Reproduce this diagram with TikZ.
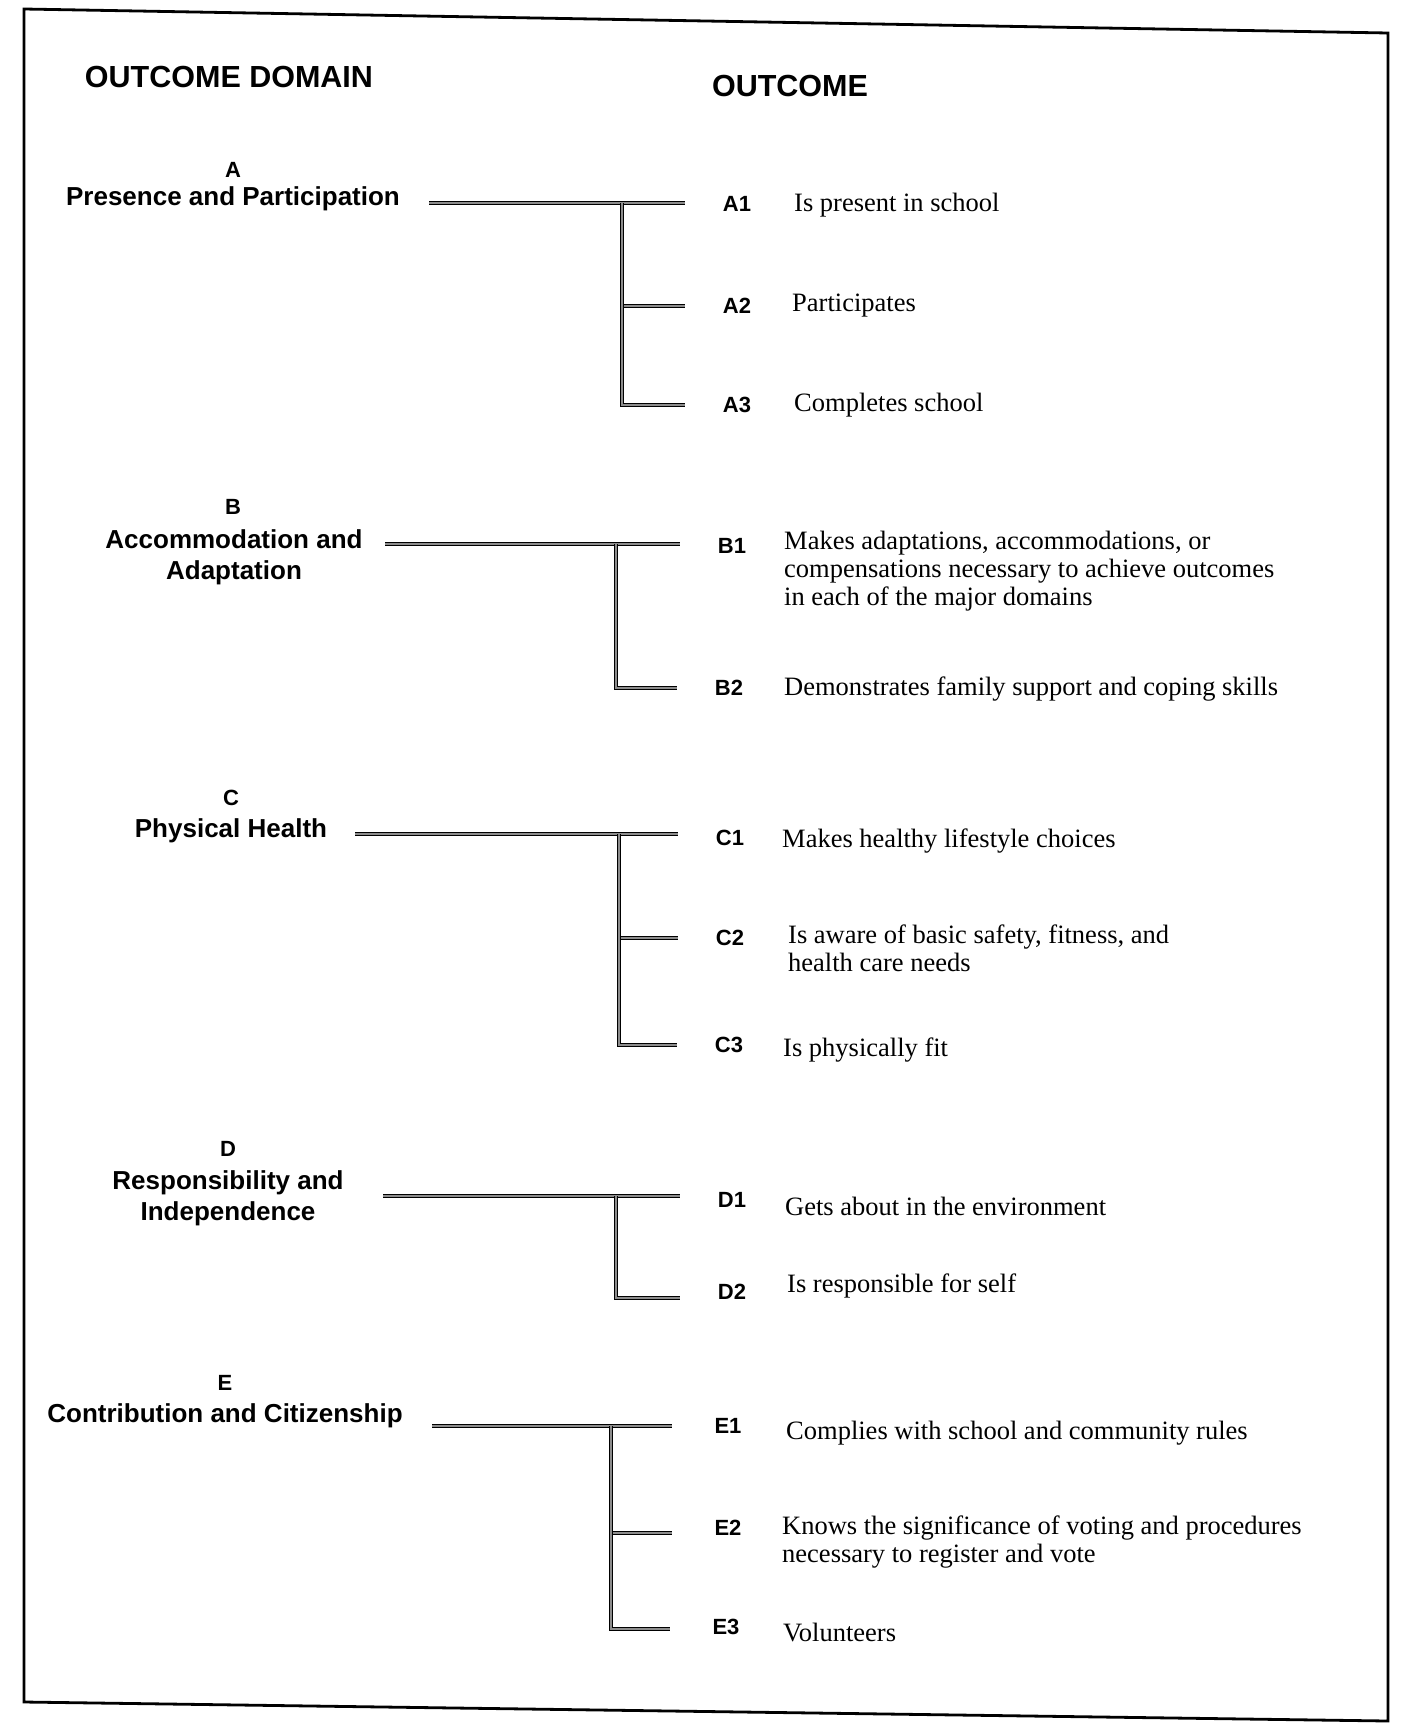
\documentclass[tikz,border=0pt]{standalone}
\usepackage{fontspec}
\setmainfont{Liberation Serif}
\newfontfamily\hv{Liberation Sans}
\begin{document}
\begin{tikzpicture}[x=1pt,y=-1pt,
  frame/.style={line width=2.8pt,black},
  head/.style={font=\hv\bfseries\fontsize{30.5}{36}\selectfont,inner sep=0pt},
  domlabel/.style={font=\hv\bfseries\fontsize{26}{31}\selectfont,align=center,inner sep=0pt},
  letter/.style={font=\hv\bfseries\fontsize{22}{26}\selectfont,inner sep=0pt},
  code/.style={font=\hv\bfseries\fontsize{22}{26}\selectfont,inner sep=0pt},
  outc/.style={font=\fontsize{26.5}{28}\selectfont,align=left,anchor=west,inner sep=0pt},
  conn/.style={draw=black,line width=1.4pt,double=black!45,double distance=1.8pt,shorten >=38pt}]
\useasboundingbox (0,0) rectangle (1404,1724);
\draw[frame] (24,9) -- (1388,33) -- (1388,1721) -- (24,1702) -- cycle;
\node[head] (h1) at (229,77) {OUTCOME DOMAIN};
\node[head] (h2) at (790,86) {OUTCOME};
% A
\node[letter] (LA) at (233,170) {A};
\node[domlabel] (DA) at (233,199) {Presence and Participation};
\node[code] (A1) at (737,204) {A1};
\node[code] (A2) at (737,306) {A2};
\node[code] (A3) at (737,405) {A3};
\node[outc] (TA1) at (794,205) {Is present in school};
\node[outc] (TA2) at (792,306) {Participates};
\node[outc] (TA3) at (794,405) {Completes school};
\coordinate (As) at (429,203);
\coordinate (Aj) at (622,203);
\draw[conn] (As) -- (As -| A1.west);
\draw[conn] (Aj) |- (A2.west);
\draw[conn] (Aj) |- (A3.west);
% B
\node[letter] (LB) at (233,507) {B};
\node[domlabel] (DB) at (234,557) {Accommodation and\\Adaptation};
\node[code] (B1) at (732,546) {B1};
\node[code] (B2) at (729,688) {B2};
\node[outc] (TB1) at (784,571) {Makes adaptations, accommodations, or\\compensations necessary to achieve outcomes\\in each of the major domains};
\node[outc] (TB2) at (784,689) {Demonstrates family support and coping skills};
\coordinate (Bs) at (385,544);
\coordinate (Bj) at (616,544);
\draw[conn] (Bs) -- (Bs -| B1.west);
\draw[conn] (Bj) |- (B2.west);
% C
\node[letter] (LC) at (231,798) {C};
\node[domlabel] (DC) at (231,831) {Physical Health};
\node[code] (C1) at (730,838) {C1};
\node[code] (C2) at (730,938) {C2};
\node[code] (C3) at (729,1045) {C3};
\node[outc] (TC1) at (782,841) {Makes healthy lifestyle choices};
\node[outc] (TC2) at (788,948) {Is aware of basic safety, fitness, and\\health care needs};
\node[outc] (TC3) at (783,1050) {Is physically fit};
\coordinate (Cs) at (355,834);
\coordinate (Cj) at (619,834);
\draw[conn] (Cs) -- (Cs -| C1.west);
\draw[conn] (Cj) |- (C2.west);
\draw[conn] (Cj) |- (C3.west);
% D
\node[letter] (LD) at (228,1149) {D};
\node[domlabel] (DD) at (228,1198) {Responsibility and\\Independence};
\node[code] (D1) at (732,1200) {D1};
\node[code] (D2) at (732,1292) {D2};
\node[outc] (TD1) at (785,1206) {Gets about in the environment};
\node[outc] (TD2) at (787,1286) {Is responsible for self};
\coordinate (Ds) at (383,1196);
\coordinate (Dj) at (616,1196);
\draw[conn] (Ds) -- (Ds -| D1.west);
\draw[conn] (Dj) |- ([yshift=-6pt]D2.west);
% E
\node[letter] (LE) at (225,1383) {E};
\node[domlabel] (DE) at (225,1416) {Contribution and Citizenship};
\node[code] (E1) at (728,1426) {E1};
\node[code] (E2) at (728,1528) {E2};
\node[code] (E3) at (726,1627) {E3};
\node[outc] (TE1) at (786,1433) {Complies with school and community rules};
\node[outc] (TE2) at (782,1542) {Knows the significance of voting and procedures\\necessary to register and vote};
\node[outc] (TE3) at (783,1632) {Volunteers};
\coordinate (Es) at (432,1426);
\coordinate (Ej) at (611,1426);
\draw[conn,shorten >=42pt] (Es) -- (Es -| E1.west);
\draw[conn,shorten >=42pt] (Ej) |- ([yshift=-5pt]E2.west);
\draw[conn,shorten >=42pt] (Ej) |- ([yshift=-2pt]E3.west);
\end{tikzpicture}
\end{document}
